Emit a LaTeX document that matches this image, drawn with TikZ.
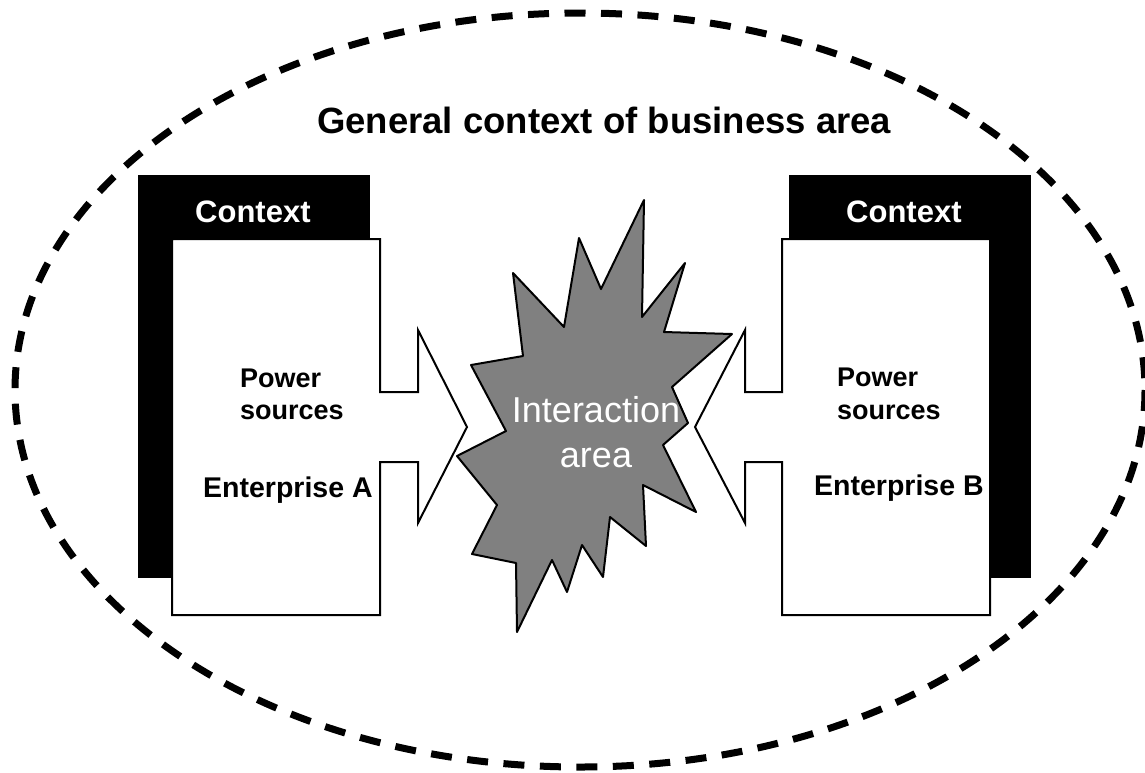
\documentclass[tikz,border=0pt]{standalone}
\usepackage{fontspec}
\setmainfont{Liberation Sans}
\begin{document}
\begin{tikzpicture}
[
    x=1pt, y=-1pt,
    boundary/.style={line width=7pt, dash pattern=on 21pt off 15.5pt},
    backpanel/.style={fill=black},
    frontbox/.style={draw=black, fill=white, line width=2pt},
    burst/.style={draw=black, fill=black!50, line width=2pt, line join=round},
    bigtext/.style={inner sep=0pt, font=\bfseries\fontsize{28.5}{34}\selectfont},
    midtext/.style={inner sep=0pt, font=\bfseries\fontsize{27}{31}\selectfont},
]
\useasboundingbox (0,0) rectangle (1145,772);
% business area
\draw[boundary] (580,390) ellipse [x radius=565, y radius=377];
\node[inner sep=0pt, anchor=base west, font=\bfseries\fontsize{36.5}{42}\selectfont] (title) at (317,133)
{General context of business area};
% enterprise A
\fill[backpanel] (138,175) rectangle (370,578);
\draw[frontbox] (172,239) -- (380,239) -- (380,392) -- (418,392) -- (418,330)
    -- (467,427) -- (418,523) -- (418,462) -- (380,462) -- (380,615) -- (172,615) -- cycle;
\node[bigtext, font=\bfseries\fontsize{31}{36}\selectfont, text=white, anchor=base west] (ctxA) at (195,222) {Context};
\node[midtext, anchor=base west] (powA) at (240,387) {Power};
\node[midtext, anchor=base west] (srcA) at (240,419) {sources};
\node[bigtext, anchor=base west] (entA) at (203,497) {Enterprise A};
% enterprise B
\fill[backpanel] (789,175) rectangle (1031,578);
\draw[frontbox] (990,239) -- (782,239) -- (782,392) -- (745,392) -- (745,330)
    -- (695,427) -- (745,523) -- (745,462) -- (782,462) -- (782,615) -- (990,615) -- cycle;
\node[bigtext, font=\bfseries\fontsize{31}{36}\selectfont, text=white, anchor=base west] (ctxB) at (846,222) {Context};
\node[midtext, anchor=base west] (powB) at (837,386) {Power};
\node[midtext, anchor=base west] (srcB) at (837,419) {sources};
\node[bigtext, anchor=base west] (entB) at (814,495) {Enterprise B};
% interaction
\draw[burst] (644,200) -- (642,317) -- (685,263) -- (664,332) -- (732,334) -- (672,387)
    -- (688,423) -- (663,445) -- (696,512) -- (643,485) -- (646,546) -- (610,517)
    -- (603,577) -- (582,545) -- (567,592) -- (552,560) -- (517,632) -- (516,563)
    -- (472,554) -- (497,505) -- (457,456) -- (506,431) -- (471,365) -- (523,356)
    -- (513,273) -- (564,327) -- (579,238) -- (601,289) -- cycle;
\node[inner sep=0pt, anchor=base, text=white, font=\fontsize{36}{45}\selectfont] (inter) at (596,422) {Interaction};
\node[inner sep=0pt, anchor=base, text=white, font=\fontsize{36}{45}\selectfont] (area) at (596,467) {area};
\end{tikzpicture}
\end{document}
